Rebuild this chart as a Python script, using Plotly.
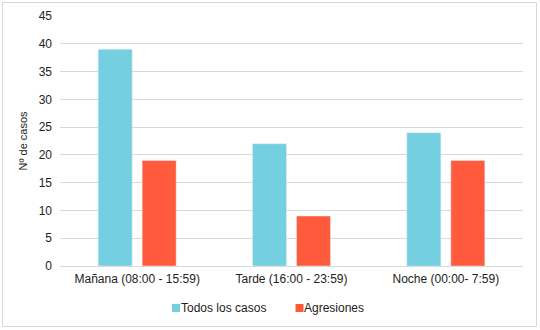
import plotly.graph_objects as go

categories = ["Mañana (08:00 - 15:59)", "Tarde (16:00 - 23:59)", "Noche (00:00- 7:59)"]
todos = [39, 22, 24]
agresiones = [19, 9, 19]
yticks = [0, 5, 10, 15, 20, 25, 30, 35, 40, 45]
series_names = ["Todos los casos", "Agresiones"]
series_colors = ["#74CFE0", "#FF5A3C"]

W, H = 540, 330
L, R, T, B = 60, 17, 16, 64
pw, ph = W - L - R, H - T - B

FONT = "Liberation Sans, Arial, sans-serif"

fig = go.Figure()
fig.add_trace(go.Bar(name=series_names[0], x=categories, y=todos, marker_color=series_colors[0]))
fig.add_trace(go.Bar(name=series_names[1], x=categories, y=agresiones, marker_color=series_colors[1]))

def px_x(p):
    return (p - L) / pw

def px_y(p):
    return (H - B - p) / ph

# custom legend (squares + text) placed like the reference
legend_sq_x = [172, 295.5]
shapes = [dict(type="rect", xref="paper", yref="paper",
               x0=px_x(2.5), x1=px_x(536.5), y0=px_y(326.5), y1=px_y(2.5),
               line=dict(color="#D9D9D9", width=1), fillcolor="rgba(0,0,0,0)", layer="below")]
annotations = []
for sx, name, col in zip(legend_sq_x, series_names, series_colors):
    shapes.append(dict(type="rect", xref="paper", yref="paper",
                       x0=px_x(sx), x1=px_x(sx + 8), y0=px_y(312), y1=px_y(304),
                       line=dict(width=0), fillcolor=col))
    annotations.append(dict(xref="paper", yref="paper", x=px_x(sx + 6.5), y=px_y(308),
                            xanchor="left", yanchor="middle", text=name, showarrow=False,
                            font=dict(family=FONT, size=12, color="#222")))

fig.update_layout(
    width=W, height=H,
    margin=dict(l=L, r=R, t=T, b=B, autoexpand=False),
    paper_bgcolor="white", plot_bgcolor="white",
    barmode="group", bargap=0.43, bargroupgap=0.227,
    font=dict(family=FONT, size=12, color="#222"),
    showlegend=False,
    xaxis=dict(showgrid=False, showline=True, linecolor="#D9D9D9", linewidth=1,
               ticks="", tickfont=dict(size=12), automargin=False, ticklabelstandoff=2),
    yaxis=dict(range=[0, 45], tickvals=yticks, showgrid=True, gridcolor="#D9D9D9",
               gridwidth=1, zeroline=False, showline=False, ticks="", ticklen=0,
               ticklabelstandoff=7,
               title=dict(text="Nº de casos", font=dict(size=11), standoff=8),
               tickfont=dict(size=12), automargin=False),
    shapes=shapes,
    annotations=annotations,
)

fig.write_html("out.html")
